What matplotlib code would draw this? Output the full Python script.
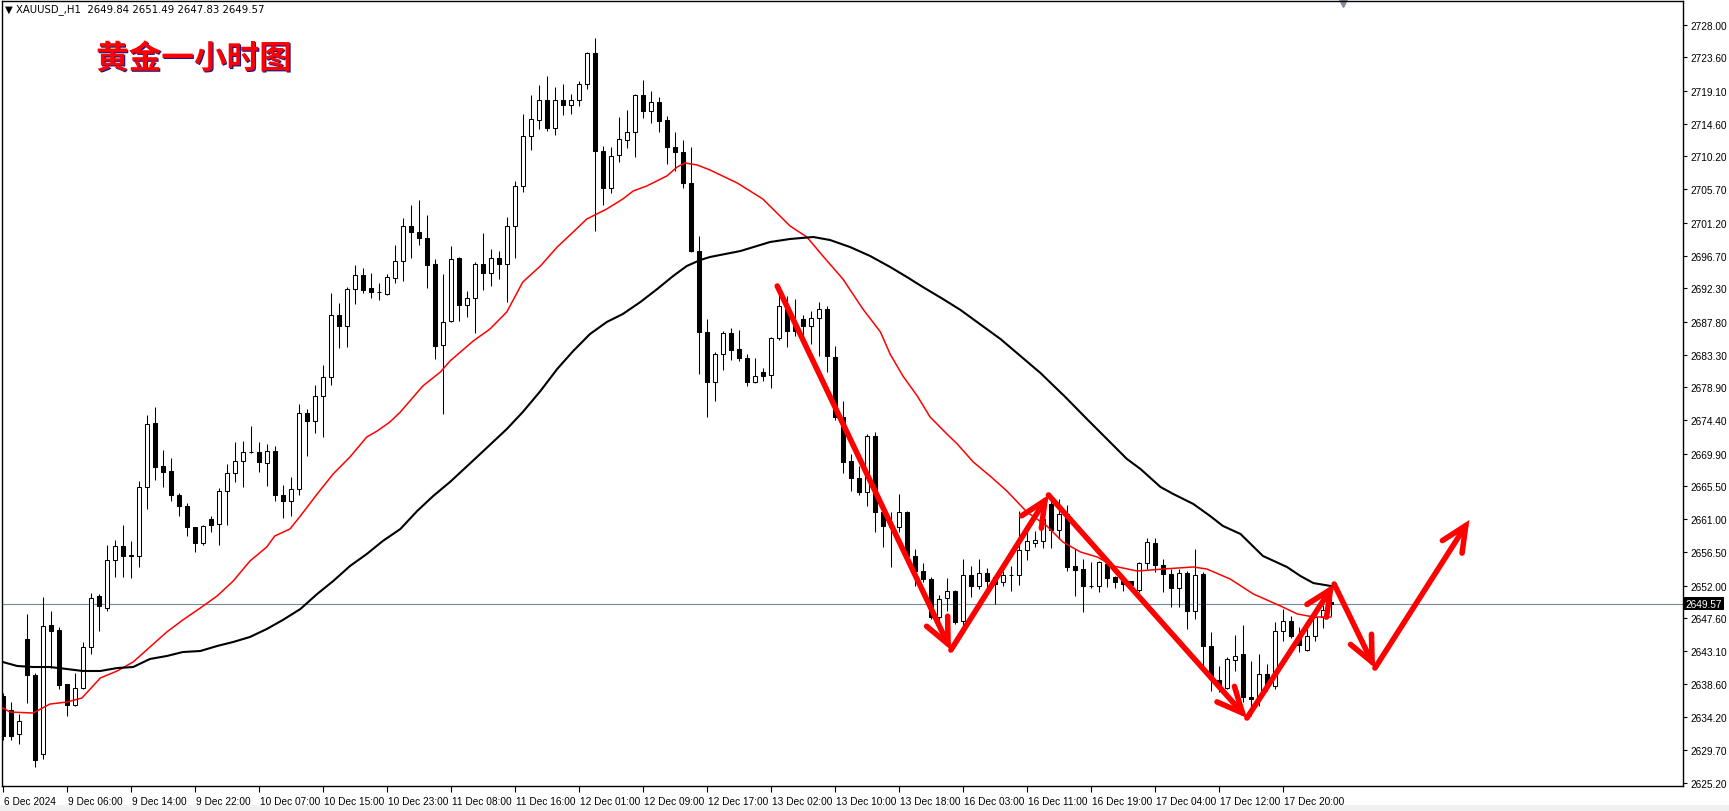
import numpy as np
import matplotlib.pyplot as plt
import matplotlib.patheffects as pe
from matplotlib.patches import Rectangle
from matplotlib.transforms import blended_transform_factory, ScaledTranslation

# XAUUSD H1 bars (oldest first)
opens = [2637.04, 2635.14, 2631.88, 2644.77, 2639.89, 2629.17, 2646.66, 2645.99, 2638.67, 2635.82,
         2638.12, 2643.68, 2650.60, 2648.97, 2655.48, 2657.37, 2656.02, 2656.02, 2665.37, 2674.05,
         2668.22, 2667.54, 2664.29, 2662.80, 2659.95, 2657.78, 2661.03, 2660.36, 2664.83, 2667.27,
         2668.90, 2670.11, 2670.11, 2668.62, 2670.25, 2664.29, 2663.47, 2665.10, 2675.40, 2674.32,
         2677.71, 2680.28, 2688.69, 2687.20, 2692.21, 2694.11, 2692.35, 2691.81, 2691.53, 2693.70,
         2696.01, 2700.75, 2699.94, 2699.13, 2695.60, 2684.62, 2687.88, 2696.41, 2690.04, 2690.99,
         2695.60, 2694.38, 2696.41, 2695.60, 2700.75, 2706.17, 2712.95, 2715.12, 2717.83, 2714.04,
         2717.83, 2717.16, 2717.83, 2720.00, 2724.21, 2710.92, 2705.90, 2710.38, 2712.41, 2713.50,
         2718.51, 2716.34, 2717.56, 2715.12, 2711.46, 2710.78, 2706.58, 2697.36, 2686.38, 2679.61,
         2683.40, 2686.25, 2684.08, 2682.86, 2679.61, 2680.96, 2680.55, 2685.57, 2689.91, 2687.47,
         2688.15, 2687.20, 2688.28, 2689.50, 2682.99, 2674.86, 2668.90, 2666.59, 2664.69, 2672.29,
         2661.98, 2660.00, 2659.95, 2661.98, 2656.02, 2653.98, 2652.90, 2647.75, 2650.32, 2651.27,
         2647.21, 2653.44, 2651.95, 2653.71, 2653.17, 2652.49, 2653.44, 2653.44, 2656.83, 2657.78,
         2658.05, 2663.07, 2659.54, 2661.71, 2654.66, 2654.25, 2651.95, 2651.95, 2654.93, 2653.17,
         2652.62, 2652.62, 2651.41, 2655.07, 2657.78, 2654.80, 2653.58, 2651.68, 2653.71, 2648.56,
         2653.58, 2643.82, 2639.21, 2638.12, 2641.92, 2642.73, 2636.90, 2636.63, 2640.02, 2638.40,
         2645.85, 2647.21, 2645.17, 2643.27, 2645.17, 2647.75, 2649.84]
highs = [2637.45, 2636.22, 2634.60, 2648.16, 2640.16, 2650.46, 2648.56, 2646.39, 2638.67, 2640.16,
         2644.36, 2651.00, 2650.87, 2657.51, 2658.18, 2660.22, 2658.05, 2666.19, 2675.13, 2676.21,
         2670.39, 2669.30, 2664.56, 2663.20, 2659.95, 2660.22, 2661.44, 2665.24, 2668.49, 2671.47,
         2671.61, 2673.64, 2671.47, 2671.20, 2670.93, 2665.64, 2666.73, 2676.62, 2675.95, 2679.20,
         2681.91, 2691.67, 2690.32, 2692.48, 2695.47, 2695.06, 2694.38, 2693.03, 2694.25, 2698.18,
         2701.84, 2703.60, 2704.28, 2702.25, 2696.28, 2694.25, 2698.04, 2696.55, 2691.94, 2695.87,
         2699.80, 2697.63, 2697.36, 2701.97, 2706.85, 2715.93, 2718.51, 2719.87, 2721.09, 2719.60,
         2720.00, 2718.65, 2720.41, 2724.34, 2726.24, 2711.60, 2711.46, 2715.53, 2716.48, 2718.65,
         2720.54, 2719.05, 2718.24, 2715.66, 2713.50, 2712.41, 2711.46, 2699.40, 2688.15, 2683.67,
         2686.52, 2686.93, 2686.66, 2683.40, 2682.86, 2681.50, 2685.71, 2691.53, 2691.26, 2690.86,
         2688.69, 2689.23, 2690.45, 2689.91, 2684.48, 2677.03, 2669.84, 2668.22, 2672.56, 2672.83,
         2662.12, 2661.98, 2664.42, 2662.12, 2656.97, 2655.07, 2653.17, 2650.73, 2653.03, 2651.41,
         2655.61, 2654.66, 2655.61, 2654.39, 2653.44, 2653.98, 2654.66, 2662.12, 2660.22, 2659.41,
         2661.44, 2664.15, 2663.74, 2662.93, 2656.97, 2655.61, 2655.20, 2655.34, 2655.61, 2653.30,
         2653.03, 2652.65, 2655.20, 2658.46, 2658.46, 2655.61, 2654.25, 2654.25, 2653.98, 2656.97,
         2653.85, 2645.71, 2641.10, 2642.33, 2645.31, 2646.66, 2641.78, 2642.73, 2641.38, 2647.07,
         2648.83, 2647.89, 2646.39, 2646.53, 2648.16, 2649.38, 2651.49]
lows = [2631.08, 2631.08, 2630.53, 2636.09, 2627.41, 2628.50, 2640.83, 2637.99, 2634.33, 2635.69,
        2637.99, 2642.73, 2645.85, 2648.56, 2653.17, 2653.17, 2653.03, 2654.53, 2662.39, 2666.32,
        2665.37, 2663.47, 2661.44, 2658.73, 2656.56, 2657.51, 2659.27, 2657.51, 2660.22, 2666.05,
        2665.37, 2669.98, 2667.40, 2665.51, 2663.47, 2661.17, 2661.44, 2664.29, 2669.57, 2672.69,
        2672.15, 2679.20, 2684.21, 2684.35, 2690.18, 2691.67, 2690.99, 2690.72, 2691.40, 2693.03,
        2693.30, 2696.41, 2698.18, 2692.35, 2682.72, 2675.27, 2687.74, 2687.88, 2688.42, 2686.25,
        2692.08, 2692.62, 2693.57, 2690.45, 2696.41, 2705.36, 2711.06, 2713.90, 2713.63, 2713.09,
        2715.80, 2715.93, 2717.02, 2719.33, 2700.08, 2703.60, 2705.23, 2709.43, 2711.33, 2710.11,
        2715.39, 2714.72, 2713.50, 2709.16, 2708.21, 2705.90, 2697.23, 2680.69, 2674.86, 2677.03,
        2681.23, 2682.59, 2682.45, 2679.06, 2679.47, 2679.74, 2678.79, 2685.30, 2684.35, 2685.84,
        2685.98, 2684.76, 2683.13, 2680.96, 2674.45, 2667.27, 2664.83, 2664.29, 2662.80, 2659.27,
        2657.24, 2654.53, 2659.27, 2655.34, 2651.95, 2652.49, 2647.48, 2646.39, 2648.56, 2646.80,
        2646.53, 2650.46, 2651.54, 2651.81, 2649.51, 2651.95, 2651.27, 2652.08, 2655.48, 2657.24,
        2657.10, 2657.10, 2658.32, 2653.98, 2650.60, 2648.43, 2651.68, 2651.14, 2651.81, 2651.68,
        2651.27, 2651.81, 2651.14, 2654.25, 2653.85, 2651.14, 2649.10, 2649.10, 2646.12, 2647.48,
        2640.43, 2637.72, 2637.58, 2637.99, 2640.43, 2636.22, 2634.33, 2635.69, 2637.72, 2637.99,
        2644.50, 2644.90, 2643.00, 2643.20, 2644.50, 2646.26, 2647.83]
closes = [2631.62, 2631.62, 2633.65, 2639.89, 2628.36, 2646.53, 2645.85, 2638.53, 2635.82, 2638.12,
          2643.68, 2650.32, 2649.24, 2655.48, 2657.37, 2656.02, 2656.15, 2665.37, 2673.91, 2668.08,
          2667.40, 2664.29, 2662.80, 2659.95, 2657.78, 2660.09, 2660.22, 2664.83, 2667.27, 2668.90,
          2670.11, 2670.15, 2668.76, 2670.25, 2664.29, 2663.47, 2665.10, 2675.40, 2674.32, 2677.71,
          2680.28, 2688.69, 2687.20, 2692.21, 2694.11, 2692.08, 2691.81, 2691.85, 2693.84, 2696.01,
          2700.75, 2699.94, 2699.13, 2695.47, 2684.48, 2687.74, 2696.28, 2690.04, 2690.99, 2695.60,
          2694.38, 2696.41, 2695.60, 2700.75, 2706.17, 2712.95, 2715.26, 2717.83, 2714.04, 2717.83,
          2717.16, 2717.83, 2720.00, 2724.21, 2710.92, 2705.90, 2710.24, 2712.55, 2713.50, 2718.51,
          2716.34, 2717.56, 2714.99, 2711.46, 2710.78, 2706.58, 2697.36, 2686.38, 2679.61, 2683.40,
          2686.25, 2683.94, 2682.86, 2679.61, 2680.42, 2680.42, 2685.57, 2689.91, 2686.52, 2686.52,
          2687.20, 2688.28, 2689.50, 2683.13, 2674.86, 2668.76, 2666.59, 2664.69, 2672.29, 2661.98,
          2660.09, 2659.90, 2661.98, 2656.02, 2653.98, 2652.90, 2647.75, 2650.19, 2651.27, 2647.07,
          2653.44, 2651.95, 2653.71, 2652.62, 2652.22, 2653.44, 2653.40, 2656.83, 2658.05, 2658.18,
          2661.03, 2659.54, 2661.71, 2654.53, 2654.12, 2651.95, 2651.90, 2655.20, 2653.03, 2652.49,
          2652.22, 2652.08, 2655.07, 2657.91, 2654.80, 2653.58, 2651.68, 2653.71, 2648.56, 2653.44,
          2643.82, 2639.35, 2638.26, 2642.06, 2642.46, 2636.90, 2636.63, 2640.02, 2638.40, 2645.85,
          2647.21, 2645.17, 2643.95, 2645.17, 2647.75, 2648.70, 2649.57]

# moving averages, read at many points along each curve (bar position, price)
ma_fast_bars = [0.0, 0.9, 3.8, 5.9, 8.0, 9.9, 12.2, 14.3, 16.3, 18.4, 20.5, 22.5, 24.7, 26.8,
                28.8, 30.9, 33.0, 34.0, 35.9, 37.2, 39.3, 41.3, 43.4, 45.5, 46.8, 48.4, 49.7,
                52.5, 54.7, 55.9, 58.8, 60.9, 63.0, 65.0, 67.2, 69.3, 71.3, 73.0, 75.5, 77.5,
                78.8, 80.5, 83.0, 84.3, 85.3, 86.8, 88.4, 91.8, 95.0, 98.4, 100.5, 102.5,
                105.0, 107.5, 109.7, 110.9, 112.5, 114.3, 115.9, 118.0, 119.3, 121.3, 123.4,
                125.5, 128.0, 130.5, 132.5, 134.7, 136.8, 138.8, 141.8, 145.0, 148.8, 150.5,
                153.4, 156.3, 159.7, 161.8, 163.8, 166.0]
ma_fast = [2635.41, 2634.87, 2634.73, 2635.95, 2636.22, 2636.77, 2639.48, 2640.43, 2641.65,
           2643.68, 2645.71, 2647.34, 2648.97, 2650.60, 2652.62, 2655.34, 2657.24, 2658.73,
           2659.68, 2661.44, 2664.42, 2667.14, 2669.44, 2672.15, 2672.96, 2674.19, 2675.54,
           2679.06, 2680.96, 2682.45, 2685.16, 2686.79, 2689.10, 2693.16, 2695.33, 2697.90,
           2699.94, 2701.70, 2703.06, 2704.41, 2705.50, 2706.18, 2707.53, 2708.75, 2709.29,
           2709.02, 2708.34, 2706.58, 2704.41, 2700.75, 2699.26, 2696.69, 2693.57, 2689.50,
           2686.38, 2683.40, 2680.42, 2677.71, 2674.86, 2672.56, 2671.20, 2668.76, 2666.86,
           2664.83, 2661.98, 2660.09, 2657.91, 2656.56, 2655.88, 2654.66, 2653.98, 2654.25,
           2654.53, 2654.25, 2652.90, 2650.87, 2649.24, 2648.16, 2647.75, 2647.75]
ma_slow_bars = [0.0, 1.8, 3.8, 5.9, 8.0, 10.0, 12.2, 14.3, 16.3, 18.4, 20.5, 22.5, 24.7, 26.8,
                28.8, 30.9, 33.0, 35.0, 37.2, 39.3, 41.3, 43.4, 45.5, 47.5, 49.7, 51.8, 53.8,
                55.9, 59.4, 63.0, 65.0, 67.2, 69.3, 71.3, 73.4, 75.5, 77.5, 79.7, 81.8, 83.8,
                85.5, 87.2, 88.4, 92.2, 95.9, 98.4, 101.3, 103.4, 105.9, 108.4, 110.9, 113.0,
                115.0, 117.5, 119.7, 124.7, 129.7, 132.8, 135.5, 138.0, 140.5, 142.2, 144.7,
                146.3, 148.8, 150.9, 152.5, 154.7, 157.5, 160.5, 162.2, 163.8, 166.0]
ma_slow = [2641.65, 2641.11, 2640.97, 2640.97, 2640.70, 2640.43, 2640.43, 2640.83, 2640.97,
           2642.06, 2642.46, 2643.00, 2643.14, 2643.82, 2644.36, 2645.04, 2646.12, 2647.34,
           2648.83, 2650.87, 2652.62, 2654.66, 2656.29, 2658.05, 2659.68, 2662.12, 2664.15,
           2666.05, 2669.57, 2673.23, 2675.54, 2678.38, 2681.37, 2683.81, 2686.11, 2687.74,
           2688.82, 2690.45, 2692.21, 2693.98, 2695.33, 2696.15, 2696.55, 2697.36, 2698.58,
           2698.99, 2699.26, 2698.85, 2697.90, 2696.69, 2695.20, 2693.84, 2692.48, 2690.86,
           2689.37, 2685.43, 2680.82, 2677.57, 2674.59, 2671.88, 2669.17, 2667.81, 2665.37,
           2664.42, 2663.07, 2661.44, 2660.09, 2659.00, 2656.02, 2654.53, 2653.30, 2652.35,
           2651.95]

# hand-drawn forecast path (bar, price)
path_bars = [96.8, 118.5, 130.7, 155.5, 166.4, 171.5, 183.3]
path_prices = [2692.62, 2643.27, 2664.29, 2634.06, 2652.22, 2640.83, 2660.90]

time_ticks = list(range(0, 161, 8))
time_labels = ['6 Dec 2024', '9 Dec 06:00', '9 Dec 14:00', '9 Dec 22:00', '10 Dec 07:00',
               '10 Dec 15:00', '10 Dec 23:00', '11 Dec 08:00', '11 Dec 16:00', '12 Dec 01:00',
               '12 Dec 09:00', '12 Dec 17:00', '13 Dec 02:00', '13 Dec 10:00', '13 Dec 18:00',
               '16 Dec 03:00', '16 Dec 11:00', '16 Dec 19:00', '17 Dec 04:00', '17 Dec 12:00',
               '17 Dec 20:00']
price_ticks = [2728.00, 2723.60, 2719.10, 2714.60, 2710.20, 2705.70, 2701.20, 2696.70, 2692.30,
               2687.80, 2683.30, 2678.90, 2674.40, 2669.90, 2665.50, 2661.00, 2656.50, 2652.00,
               2647.60, 2643.10, 2638.60, 2634.20, 2629.70, 2625.20]
last_price = 2649.57

plt.rcParams['font.family'] = ['Liberation Sans', 'DejaVu Sans']

fig = plt.figure(figsize=(17.29, 8.12), dpi=100)
fig.patches.append(Rectangle((0, 0), 1, 6 / 812, transform=fig.transFigure,
                             facecolor='#f0f0f0', edgecolor='none'))
ax = fig.add_axes([2 / 1729, 25 / 812, 1681 / 1729, 785 / 812])
ax.set_xlim(-0.09, 210.0)
ax.set_ylim(2624.84, 2731.25)

o = np.array(opens)
h = np.array(highs)
l = np.array(lows)
c = np.array(closes)
x = np.arange(len(o))
up = c >= o
lo = np.minimum(o, c)
hgt = np.maximum(np.abs(c - o), 0.06)

ax.vlines(x, l, h, color='black', lw=0.75, zorder=2)
ax.bar(x[up], hgt[up], bottom=lo[up], width=0.5, facecolor='white',
       edgecolor='black', lw=0.75, zorder=3)
ax.bar(x[~up], hgt[~up], bottom=lo[~up], width=0.5, facecolor='black',
       edgecolor='black', lw=0.75, zorder=3)

ax.plot(ma_fast_bars, ma_fast, color='red', lw=1.1, zorder=4)
ax.plot(ma_slow_bars, ma_slow, color='black', lw=1.5, zorder=4)

ax.axhline(last_price, color='#778899', lw=0.8, zorder=1)

for i in range(len(path_bars) - 1):
    ax.annotate('', xy=(path_bars[i + 1], path_prices[i + 1]),
                xytext=(path_bars[i], path_prices[i]),
                arrowprops=dict(arrowstyle='->,head_length=1.3,head_width=0.6',
                                mutation_scale=14, lw=4.0, color='red',
                                shrinkA=0, shrinkB=0, joinstyle='miter'),
                zorder=5)

# axes styling
for s in ax.spines.values():
    s.set_color('black')
    s.set_linewidth(1.0)
ax.yaxis.tick_right()
ax.set_yticks(price_ticks)
ax.set_yticklabels(['%.2f' % p for p in price_ticks])
ax.tick_params(axis='y', direction='out', length=3, width=0.8, labelsize=7.3, pad=2.5)
ax.set_xticks(time_ticks)
ax.set_xticklabels(time_labels)
ax.tick_params(axis='x', direction='out', length=4, width=0.8, labelsize=7.3, pad=3)
shift = ScaledTranslation(1 / 100, 0, fig.dpi_scale_trans)
for lbl in ax.get_xticklabels():
    lbl.set_ha('left')
    lbl.set_transform(lbl.get_transform() + shift)

ytrans = blended_transform_factory(ax.transAxes, ax.transData)
ax.text(1.0015, last_price, '%.2f' % last_price, transform=ytrans, color='white',
        fontsize=7.3, va='center', ha='left',
        bbox=dict(facecolor='black', edgecolor='none', pad=1.2), zorder=6, clip_on=False)

xtrans = blended_transform_factory(ax.transData, ax.transAxes)
ax.plot([167.5], [0.997], transform=xtrans, marker='v', ms=6, color='#8090a0',
        clip_on=False)

fig.text(5 / 1729, 1 - 10 / 812, '\u25bc XAUUSD_,H1  2649.84 2651.49 2647.83 2649.57',
         fontsize=7.3, va='center', ha='left', family=['DejaVu Sans'])
fig.text(96 / 1729, 1 - 60 / 812, '黄金一小时图', color='red', fontsize=23.5,
         fontweight='bold', family=['Noto Sans CJK SC'], va='center', ha='left',
         path_effects=[pe.withSimplePatchShadow(offset=(0.8, -0.8), shadow_rgbFace='#000080',
                                                alpha=0.9)])

fig.savefig('out.png', dpi=100)
